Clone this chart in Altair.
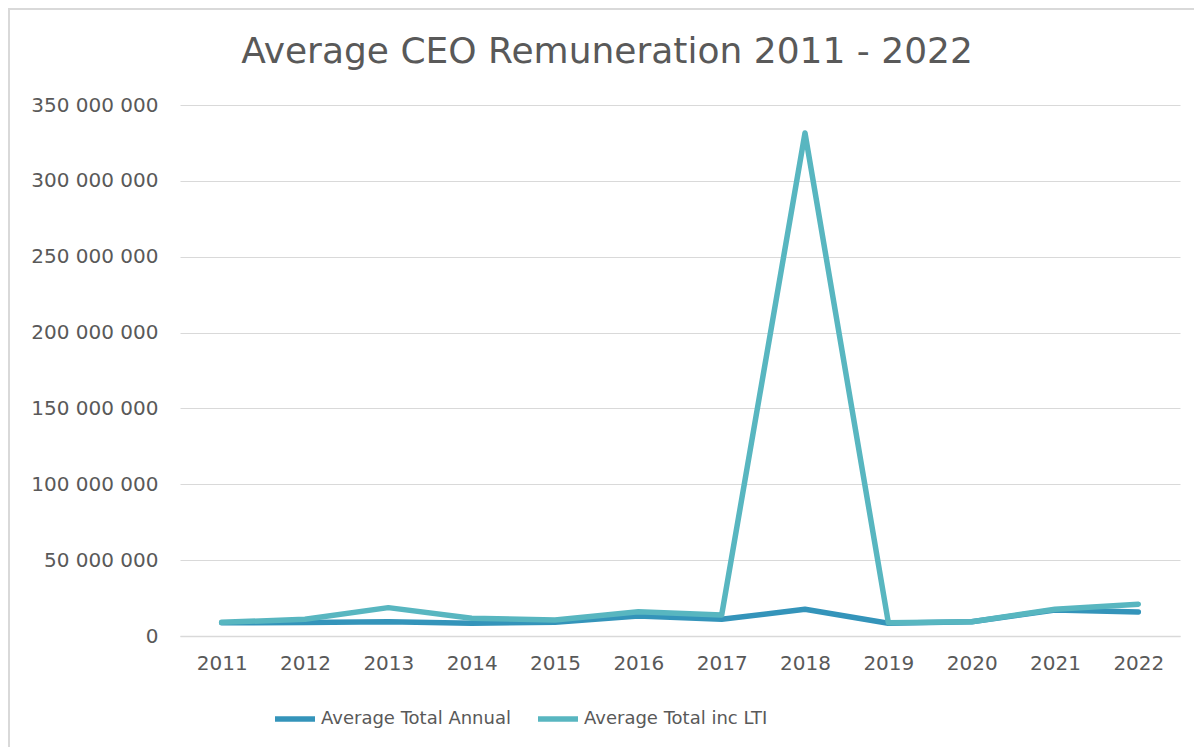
import altair as alt
import pandas as pd

years = ["2011", "2012", "2013", "2014", "2015", "2016", "2017", "2018", "2019", "2020", "2021", "2022"]
annual = [8.7e6, 8.9e6, 9.4e6, 8.4e6, 9.0e6, 13.2e6, 11.0e6, 17.6e6, 8.4e6, 9.4e6, 17.1e6, 15.8e6]
inc_lti = [9.0e6, 11.0e6, 18.7e6, 11.7e6, 10.5e6, 16.0e6, 13.8e6, 331.5e6, 8.8e6, 9.4e6, 17.6e6, 21.0e6]
series = ["Average Total Annual", "Average Total inc LTI"]
colors = ["#3494BA", "#58B6C0"]
y_ticks = [0, 50e6, 100e6, 150e6, 200e6, 250e6, 300e6, 350e6]
title_text = "Average CEO Remuneration 2011 - 2022"

rows = []
for s, vals in zip(series, [annual, inc_lti]):
    for y, v in zip(years, vals):
        rows.append({"year": y, "value": v, "series": s})
df = pd.DataFrame(rows)

W, H = 1000, 531
PL, PT, PR, PB = 172, 97, 14, 111
FONT = "DejaVu Sans"
GREY = "#595959"

lines = alt.Chart(df).mark_line(strokeWidth=5.5, strokeCap="round", strokeJoin="round").encode(
    x=alt.X("year:O", sort=years,
            scale=alt.Scale(type="point", padding=0.5),
            axis=alt.Axis(title=None, labelAngle=0, ticks=False, domain=True,
                          domainColor="#d9d9d9", domainWidth=1.5, grid=False,
                          labelFontSize=20, labelColor=GREY, labelFont=FONT,
                          labelPadding=17)),
    y=alt.Y("value:Q", scale=alt.Scale(domain=[0, 350e6], nice=False),
            axis=alt.Axis(title=None, values=y_ticks, ticks=False, domain=False,
                          grid=True, gridColor="#d9d9d9", gridWidth=1.2,
                          labelFontSize=20, labelColor=GREY, labelFont=FONT,
                          labelPadding=22,
                          labelExpr="replace(replace(format(datum.value, ','), ',', ' '), ',', ' ')")),
    color=alt.Color("series:N", scale=alt.Scale(domain=series, range=colors),
                    legend=alt.Legend(title=None, orient="none", direction="horizontal",
                                      legendX=92, legendY=591,
                                      symbolType="stroke", symbolSize=1600,
                                      symbolStrokeWidth=5.5, labelFontSize=18,
                                      labelColor=GREY, labelFont=FONT, labelLimit=0,
                                      labelOffset=3, columnPadding=16)),
)

frame_df = pd.DataFrame({"a": [0]})
left_rule = alt.Chart(frame_df).mark_rule(color="#d9d9d9", strokeWidth=2).encode(
    x=alt.value(-PL + 1), y=alt.value(-PT), y2=alt.value(H + PB))
top_rule = alt.Chart(frame_df).mark_rule(color="#d9d9d9", strokeWidth=2).encode(
    x=alt.value(-PL), x2=alt.value(W + PR), y=alt.value(-PT + 1))

title_df = pd.DataFrame({"t": [title_text]})
title = alt.Chart(title_df).mark_text(fontSize=36, font=FONT, color=GREY,
                                      align="center", baseline="alphabetic").encode(
    text="t:N", x=alt.value(607 - 180), y=alt.value(63 - 105))

chart = alt.layer(left_rule, top_rule, title, lines).properties(
    width=W, height=H,
    autosize=alt.AutoSizeParams(type="none"),
    padding={"left": PL, "top": PT, "right": PR, "bottom": PB},
).configure_view(stroke=None)

chart.save("out.html", embed_options={"renderer": "svg", "actions": False})
